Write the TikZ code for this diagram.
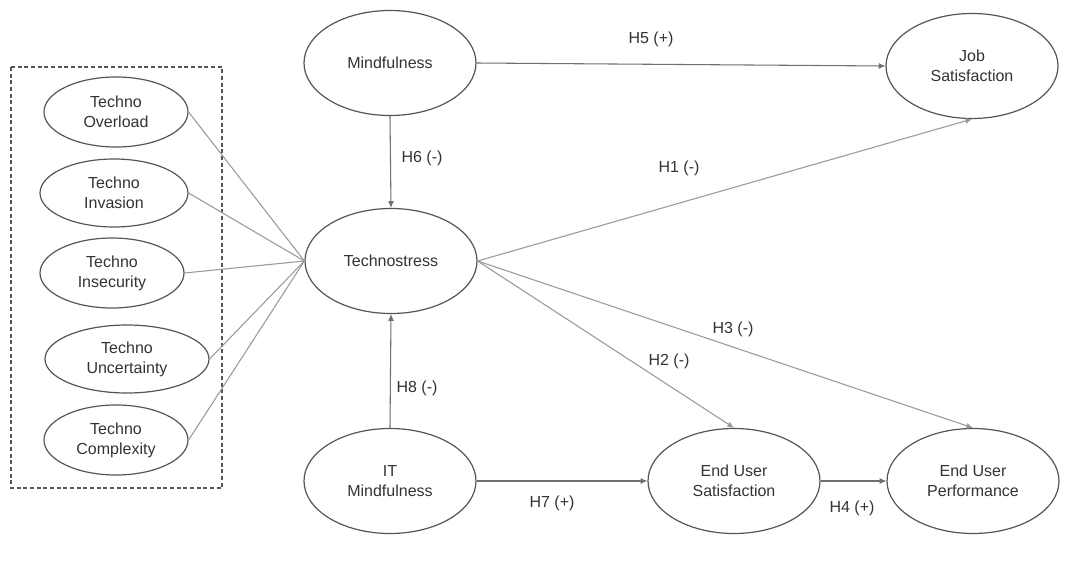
\documentclass[tikz,border=0pt]{standalone}
\usepackage{fontspec}
\setmainfont{Liberation Sans}
\usetikzlibrary{shapes.geometric,arrows.meta}
\definecolor{ellcol}{HTML}{555555}
\definecolor{txtcol}{HTML}{333333}
\definecolor{litecol}{HTML}{9A9A9A}
\definecolor{darkcol}{HTML}{707070}
\begin{document}
\begin{tikzpicture}[x=0.75pt,y=-0.75pt,
  every node/.style={font=\fontsize{12}{15}\selectfont,text=txtcol,align=center},
  bigc/.style={ellipse,draw=ellcol,line width=0.9pt,inner sep=0pt,minimum width=129pt,minimum height=78.75pt},
  smallc/.style={ellipse,draw=ellcol,line width=0.9pt,inner sep=0pt,minimum width=108pt,minimum height=52.5pt},
  litearrow/.style={draw=litecol,line width=0.8pt,-{Latex[length=5pt,width=4.5pt]}},
  darkarrow/.style={draw=darkcol,line width=0.8pt,-{Latex[length=5pt,width=4.5pt]}},
  liteline/.style={draw=litecol,line width=0.8pt},
  hlabel/.style={inner sep=1pt}]
\useasboundingbox[fill=white] (0,0) rectangle (1074,567);
% dashed frame
\draw[ellcol,line width=0.8pt,dash pattern=on 3pt off 2pt] (11,67) rectangle (222,488);
% constructs
\node[bigc] (mind) at (390,63) {Mindfulness};
\node[bigc] (ts) at (391,261) {Technostress};
\node[bigc] (itm) at (390,481) {IT\\Mindfulness};
\node[bigc] (job) at (972,66) {Job\\Satisfaction};
\node[bigc] (eus) at (734,481) {End User\\Satisfaction};
\node[bigc] (eup) at (973,481) {End User\\Performance};
% techno stressors
\node[smallc] (over) at (116,112) {Techno\\Overload};
\node[smallc,minimum width=111pt,minimum height=51pt] (inv) at (114,193) {Techno\\Invasion};
\node[smallc] (insec) at (112,273) {Techno\\Insecurity};
\node[smallc,minimum width=123pt,minimum height=51pt] (unc) at (127,359) {Techno\\Uncertainty};
\node[smallc] (comp) at (116,440) {Techno\\Complexity};
% stressor lines
\draw[liteline] (over.east) -- (ts.west);
\draw[liteline] (inv.east) -- (ts.west);
\draw[liteline] (insec.east) -- (ts.west);
\draw[liteline] (unc.east) -- (ts.west);
\draw[liteline] (comp.east) -- (ts.west);
% hypotheses
\draw[darkarrow] (mind.east) -- (job.west);
\draw[darkarrow] (mind.south) -- (ts.north);
\draw[darkarrow] (itm.north) -- (ts.south);
\draw[darkarrow] (itm.east) -- (eus.west);
\draw[darkarrow] (eus.east) -- (eup.west);
\draw[litearrow] (ts.east) -- (job.south);
\draw[litearrow] (ts.east) -- (eus.north);
\draw[litearrow] (ts.east) -- (eup.north);
% labels
\node[hlabel] (h5) at (651,39) {H5 (+)};
\node[hlabel] (h6) at (422,158) {H6 (-)};
\node[hlabel] (h1) at (679,168) {H1 (-)};
\node[hlabel] (h3) at (733,329) {H3 (-)};
\node[hlabel] (h2) at (669,361) {H2 (-)};
\node[hlabel] (h8) at (417,388) {H8 (-)};
\node[hlabel] (h7) at (552,503) {H7 (+)};
\node[hlabel] (h4) at (852,508) {H4 (+)};
\end{tikzpicture}
\end{document}
